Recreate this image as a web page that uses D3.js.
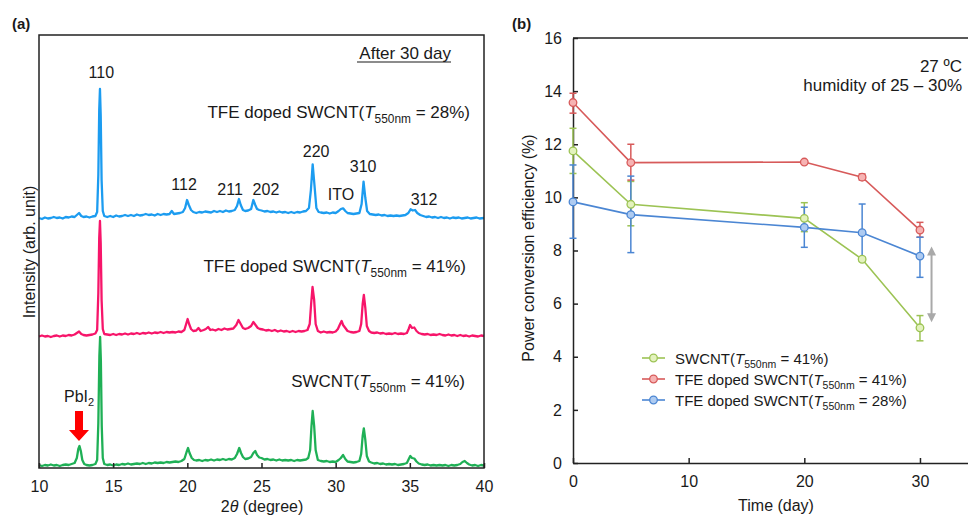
<!DOCTYPE html>
<html>
<head>
<meta charset="utf-8">
<script src="https://cdn.jsdelivr.net/npm/d3@7/dist/d3.min.js"></script>
<style>
  html, body { margin: 0; padding: 0; background: #fff; }
  svg { display: block; }
  text { font-family: "Liberation Sans", Arial, Helvetica, sans-serif; fill: #1a1a1a; }
</style>
</head>
<body>
<svg id="chart" width="968" height="517"></svg>
<script>
// ---------- (a) XRD patterns after 30 days: [2θ (deg), intensity (arb.)] ----------
const xrdTFE28 = [
  [10.0,2],[10.2,1],[10.4,2.5],[10.6,1.5],[10.8,2],[11.0,3],[11.2,2],[11.4,2.5],[11.6,1.5],[11.8,3],
  [12.0,2.5],[12.2,3.5],[12.4,3],[12.55,5],[12.7,7],[12.85,4],[13.0,3],[13.2,3.5],[13.4,2.5],[13.6,3.5],
  [13.8,4],[13.92,8],[14.0,45],[14.06,110],[14.11,131],[14.16,105],[14.22,40],[14.3,9],[14.4,4],[14.6,3],
  [14.8,4],[15.0,3],[15.2,4.5],[15.4,3.5],[15.6,4],[15.8,5],[16.0,4],[16.2,5],[16.4,4],[16.6,5.5],
  [16.8,4.5],[17.0,5],[17.2,6],[17.4,5],[17.6,5.5],[17.8,4.5],[18.0,6],[18.2,5],[18.4,6],[18.6,5.5],
  [18.8,6],[18.95,9],[19.1,6],[19.3,6.5],[19.5,7],[19.7,8],[19.85,12],[19.98,20],[20.1,15],[20.25,10],
  [20.4,8],[20.6,7],[20.8,8],[21.0,7.5],[21.2,8.5],[21.4,8],[21.6,7.5],[21.8,9],[22.0,8],[22.2,9],
  [22.4,8],[22.6,9.5],[22.8,8.5],[23.0,9],[23.2,10],[23.35,14],[23.48,21],[23.6,15],[23.75,10],[23.9,9],
  [24.1,9.5],[24.3,11],[24.45,20],[24.58,15],[24.7,11],[24.85,10],[25.0,9.5],[25.2,8.5],[25.4,9],[25.6,8],
  [25.8,8.5],[26.0,7.5],[26.2,8.5],[26.4,7.5],[26.6,8],[26.8,7],[27.0,8],[27.2,7],[27.4,8],[27.6,7.5],
  [27.8,8.5],[28.0,9],[28.2,12],[28.33,30],[28.45,55.7],[28.57,35],[28.7,12],[28.85,8],[29.0,7.5],[29.2,7],
  [29.4,7.5],[29.6,6.5],[29.8,7.5],[30.0,7],[30.2,9],[30.35,11],[30.5,11.7],[30.65,9],[30.8,7],[31.0,6.5],
  [31.2,6],[31.4,6.5],[31.6,7],[31.75,16],[31.88,38.3],[32.0,22],[32.12,9],[32.3,6],[32.5,5.5],[32.7,5],
  [32.9,5.5],[33.1,4.5],[33.3,5],[33.5,4],[33.7,4.5],[33.9,4],[34.1,4.5],[34.3,4],[34.5,4.5],[34.7,5],
  [34.9,7],[35.05,10.7],[35.2,9.5],[35.35,10],[35.5,7],[35.7,5],[35.9,4],[36.1,3],[36.3,3.5],[36.5,2.5],
  [36.7,3],[36.9,2],[37.1,3],[37.3,2],[37.5,2.5],[37.7,1.5],[37.9,2.5],[38.1,2],[38.3,2.5],[38.5,1.5],
  [38.7,2],[38.9,2.5],[39.1,1.5],[39.3,2],[39.5,2.5],[39.7,1.5],[40.0,2]
];
const xrdTFE41 = [
  [10.0,1.5],[10.2,2.5],[10.4,1.5],[10.6,2],[10.8,1],[11.0,2],[11.2,2.5],[11.4,1.5],[11.6,2.5],[11.8,2],
  [12.0,3],[12.2,2.5],[12.4,3.5],[12.55,5],[12.7,6.5],[12.85,4],[13.0,3],[13.2,2.5],[13.4,3],[13.6,3.5],
  [13.8,4.5],[13.92,8],[14.0,45],[14.06,100],[14.11,117],[14.16,95],[14.22,38],[14.3,9],[14.4,4],[14.6,3.5],
  [14.8,3],[15.0,4],[15.2,3],[15.4,4],[15.6,3.5],[15.8,4.5],[16.0,3.5],[16.2,4.5],[16.4,4],[16.6,5],
  [16.8,4],[17.0,5],[17.2,4.5],[17.4,5.5],[17.6,4.5],[17.8,5.5],[18.0,5],[18.2,6],[18.4,5],[18.6,6],
  [18.8,5.5],[19.0,6],[19.2,5.5],[19.4,6.5],[19.6,6],[19.8,8],[19.92,14],[20.02,19],[20.12,14],[20.25,9],
  [20.4,7],[20.6,7.5],[20.75,10],[20.9,7],[21.1,8],[21.25,9],[21.4,11],[21.55,8],[21.7,8.5],[21.9,7.5],
  [22.1,9],[22.3,8],[22.5,9.5],[22.7,8.5],[22.9,9],[23.1,9.5],[23.3,13],[23.45,18],[23.6,14],[23.75,10],
  [23.9,9],[24.1,10],[24.3,12],[24.45,16],[24.6,13],[24.75,10],[24.9,9],[25.1,8.5],[25.3,7.5],[25.5,8],
  [25.7,7],[25.9,8],[26.1,6.5],[26.3,7.5],[26.5,6.5],[26.7,7],[26.9,6],[27.1,7],[27.3,6],[27.5,7],
  [27.7,6.5],[27.9,7],[28.1,8],[28.25,14],[28.35,35],[28.44,51],[28.55,38],[28.65,14],[28.8,7],[29.0,5.5],
  [29.2,6.5],[29.4,5.5],[29.6,6],[29.8,5.5],[30.0,6.5],[30.15,9],[30.3,14],[30.4,17],[30.5,13],[30.65,10],
  [30.8,7],[31.0,6],[31.2,5.5],[31.4,6],[31.6,7],[31.72,14],[31.82,34],[31.9,43],[32.0,30],[32.1,12],
  [32.25,7],[32.4,5.5],[32.6,5],[32.8,5.5],[33.0,4.5],[33.2,5],[33.4,4],[33.6,4.5],[33.8,4],[34.0,5],
  [34.2,4],[34.4,4.5],[34.6,4],[34.8,5],[34.92,9],[35.02,13],[35.15,10],[35.3,10.5],[35.45,7],[35.6,5],
  [35.8,4],[36.0,3.5],[36.2,4],[36.4,3],[36.6,3.5],[36.8,3],[37.0,4],[37.2,3],[37.4,2.5],[37.6,3.5],
  [37.8,2.5],[38.0,3],[38.2,2],[38.4,3],[38.6,2],[38.8,2.5],[39.0,1.5],[39.2,2.5],[39.4,2],[39.6,1.5],
  [39.8,2.5],[40.0,2]
];
const xrdSWCNT41 = [
  [10.0,3],[10.2,2],[10.4,3],[10.6,2.5],[10.8,3.5],[11.0,2.5],[11.2,3],[11.4,2],[11.6,3],[11.8,3.5],
  [12.0,3],[12.2,4],[12.4,5],[12.55,10],[12.65,19],[12.73,22],[12.82,17],[12.92,8],[13.05,4],[13.2,3],
  [13.4,2.5],[13.6,3],[13.8,4],[13.92,8],[14.0,45],[14.07,112],[14.12,131],[14.17,108],[14.23,42],[14.3,10],
  [14.4,4],[14.6,3],[14.8,3.5],[15.0,2.5],[15.2,3.5],[15.4,3],[15.6,4],[15.8,3.5],[16.0,4.5],[16.2,3.5],
  [16.4,4],[16.6,4.5],[16.8,4],[17.0,5],[17.2,4],[17.4,5],[17.6,4.5],[17.8,5.5],[18.0,5],[18.2,5.5],
  [18.4,5],[18.6,6],[18.8,5.5],[19.0,6],[19.2,6.5],[19.4,6],[19.6,7],[19.8,9],[19.95,16],[20.05,20],
  [20.15,15],[20.3,10],[20.45,8],[20.6,7.5],[20.8,8],[21.0,7],[21.2,8],[21.4,7.5],[21.6,8.5],[21.8,7.5],
  [22.0,8.5],[22.2,8],[22.4,9],[22.6,8],[22.8,9],[23.0,8.5],[23.2,10],[23.35,14],[23.5,20],[23.62,15],
  [23.75,11],[23.9,9],[24.1,9.5],[24.3,11],[24.45,15],[24.58,17],[24.7,13],[24.85,10.5],[25.0,10],[25.2,8.5],
  [25.4,9],[25.6,8],[25.8,8.5],[26.0,7.5],[26.2,8.5],[26.4,7.5],[26.6,8],[26.8,7.5],[27.0,8],[27.2,7],
  [27.4,8],[27.6,7.5],[27.8,8],[28.0,8.5],[28.15,10],[28.28,18],[28.37,42],[28.45,57],[28.55,42],[28.65,18],
  [28.8,8],[29.0,7],[29.2,6.5],[29.4,7],[29.6,6],[29.8,6.5],[30.0,6],[30.2,8],[30.35,10],[30.5,13],
  [30.65,9],[30.8,6.5],[31.0,6],[31.2,5.5],[31.4,6],[31.6,7],[31.72,14],[31.82,32],[31.9,39.7],[32.0,28],
  [32.1,12],[32.25,6.5],[32.4,5.5],[32.6,4.5],[32.8,5],[33.0,4],[33.2,4.5],[33.4,3.5],[33.6,4],[33.8,3.5],
  [34.0,4],[34.2,3],[34.4,3.5],[34.6,4],[34.8,5],[34.93,9],[35.03,12],[35.15,10],[35.3,9.5],[35.45,6.5],
  [35.6,4.5],[35.8,3.5],[36.0,3],[36.2,3.5],[36.4,2.5],[36.6,3],[36.8,2.5],[37.0,3],[37.2,2.5],[37.4,3],
  [37.6,2],[37.8,3],[38.0,2.5],[38.2,3],[38.4,4],[38.55,6],[38.7,7],[38.85,5],[39.0,3.5],[39.2,2.5],
  [39.4,3],[39.6,2],[39.8,3],[40.0,2.5]
];
// vertical stacking offset of each pattern (arb. unit)
const xrdOffsets = { SWCNT41: 0, TFE41: 130, TFE28: 248 };
const xrdTicks = [10, 15, 20, 25, 30, 35, 40];
// reflection labels: name, 2θ anchor, intensity anchor (above the top pattern)
const hklNames = ["110", "112", "211", "202", "220", "ITO", "310", "312"];
const hklTwoTheta = [14.2, 19.78, 22.88, 25.3, 28.68, 30.36, 31.85, 35.96];
const hklLevel = [142, 30, 25, 25, 63, 20, 48, 15];
const pbi2TwoTheta = 12.73;

// ---------- (b) PCE vs storage time ----------
const days = [0, 5, 20, 25, 30];
const pceSWCNT41 = [11.75, 9.74, 9.21, 7.67, 5.09];
const errUpSWCNT41 = [0.85, 0.86, 0.59, 0.08, 0.46];
const errDnSWCNT41 = [0.85, 0.81, 0.50, 0.08, 0.49];
const pceTFE41 = [13.57, 11.31, 11.33, 10.76, 8.77];
const errUpTFE41 = [0.35, 0.69, 0.05, 0.12, 0.29];
const errDnTFE41 = [0.40, 0.66, 0.05, 0.11, 0.27];
const pceTFE28 = [9.83, 9.35, 8.87, 8.67, 7.79];
const errUpTFE28 = [1.39, 1.45, 0.76, 1.08, 0.71];
const errDnTFE28 = [1.37, 1.43, 0.75, 1.03, 0.80];
const pceYTicks = [0, 2, 4, 6, 8, 10, 12, 14, 16];
const dayTicks = [0, 10, 20, 30];
const gapArrow = { day: 31, from: 8.15, to: 5.3 };

const svg = d3.select("#chart");

// helper: "pre(T_sub post" style label with italic T and subscript
function labelWithSub(g, x, y, size, pre, sub, post, anchor) {
  const t = g.append("text").attr("x", x).attr("y", y)
    .attr("font-size", size).attr("text-anchor", anchor || "start");
  t.append("tspan").text(pre);
  t.append("tspan").attr("font-style", "italic").text("T");
  t.append("tspan").attr("font-size", size * 0.7).attr("dy", size * 0.28).text(sub);
  t.append("tspan").attr("dy", -size * 0.28).text(post);
  return t;
}

// ================= panel (a) =================
const gA = svg.append("g");
const xA = d3.scaleLinear().domain([10, 40]).range([39, 484]);
const yA = d3.scaleLinear().domain([0, 433]).range([468, 35]);

const traces = [
  { data: xrdSWCNT41, off: xrdOffsets.SWCNT41, color: "#1fb056" },
  { data: xrdTFE41, off: xrdOffsets.TFE41, color: "#f7156a" },
  { data: xrdTFE28, off: xrdOffsets.TFE28, color: "#1c9cf0" }
];
traces.forEach(tr => {
  const line = d3.line().x(d => xA(d[0])).y(d => yA(d[1] + tr.off)).curve(d3.curveLinear);
  gA.append("path").attr("d", line(tr.data)).attr("fill", "none")
    .attr("stroke", tr.color).attr("stroke-width", 2.3).attr("stroke-linejoin", "round");
});

gA.append("rect").attr("x", xA(10)).attr("y", yA(433)).attr("width", xA(40) - xA(10))
  .attr("height", yA(0) - yA(433)).attr("fill", "none").attr("stroke", "#222").attr("stroke-width", 1.5);

const axA = gA.append("g").attr("transform", `translate(0,${yA(0)})`)
  .call(d3.axisBottom(xA).tickValues(xrdTicks).tickSizeInner(-5).tickSizeOuter(0).tickPadding(13));
axA.select(".domain").remove();
axA.selectAll(".tick line").attr("stroke", "#222").attr("stroke-width", 1.5);
axA.selectAll(".tick text").attr("font-size", 16).attr("fill", "#1a1a1a")
  .attr("font-family", "'Liberation Sans', Arial, sans-serif");

// axis titles
const tA = gA.append("text").attr("x", 262).attr("y", 512).attr("font-size", 16).attr("text-anchor", "middle");
tA.append("tspan").text("2");
tA.append("tspan").attr("font-style", "italic").text("θ");
tA.append("tspan").text(" (degree)");
gA.append("text").attr("transform", "translate(35,252) rotate(-90)")
  .attr("font-size", 16).attr("text-anchor", "middle").text("Intensity (arb. unit)");

gA.append("text").attr("x", 12).attr("y", 29).attr("font-size", 15).attr("font-weight", "bold").text("(a)");

// header note
gA.append("text").attr("x", 451).attr("y", 59).attr("font-size", 17)
  .attr("text-anchor", "end").text("After 30 day");
gA.append("line").attr("x1", 357).attr("x2", 451).attr("y1", 62).attr("y2", 62)
  .attr("stroke", "#1a1a1a").attr("stroke-width", 1.2);

// reflection labels
hklNames.forEach((n, i) => {
  gA.append("text").attr("x", xA(hklTwoTheta[i])).attr("y", yA(xrdOffsets.TFE28 + hklLevel[i]))
    .attr("font-size", 16).attr("text-anchor", "middle").text(n);
});

// sample labels
labelWithSub(gA, 470, 118, 17, "TFE doped SWCNT(", "550nm", " = 28%)", "end");
labelWithSub(gA, 466, 272, 17, "TFE doped SWCNT(", "550nm", " = 41%)", "end");
labelWithSub(gA, 465, 387, 17, "SWCNT(", "550nm", " = 41%)", "end");

// PbI2 marker
const pbTop = yA(d3.max(xrdSWCNT41.filter(d => Math.abs(d[0] - pbi2TwoTheta) < 0.3), d => d[1]));
const ax0 = xA(pbi2TwoTheta) - 0.5, tip = pbTop - 5;
gA.append("path")
  .attr("d", `M${ax0 - 4},${tip - 30} L${ax0 + 4},${tip - 30} L${ax0 + 4},${tip - 11} L${ax0 + 10},${tip - 11} L${ax0},${tip} L${ax0 - 10},${tip - 11} L${ax0 - 4},${tip - 11} Z`)
  .attr("fill", "#ff0000");
const pb = gA.append("text").attr("x", 64).attr("y", 402).attr("font-size", 16);
pb.append("tspan").text("PbI");
pb.append("tspan").attr("font-size", 11).attr("dy", 4).text("2");

// ================= panel (b) =================
const gB = svg.append("g");
const xB = d3.scaleLinear().domain([0, 35]).range([573, 977.8]);
const yB = d3.scaleLinear().domain([0, 16]).range([463, 38]);

gB.append("text").attr("x", 512).attr("y", 29).attr("font-size", 15).attr("font-weight", "bold").text("(b)");

const axL = gB.append("g").attr("transform", `translate(${xB(0)},0)`)
  .call(d3.axisLeft(yB).tickValues(pceYTicks).tickSizeInner(-5).tickSizeOuter(0).tickPadding(11));
const axB = gB.append("g").attr("transform", `translate(0,${yB(0)})`)
  .call(d3.axisBottom(xB).tickValues(dayTicks).tickSizeInner(-5).tickSizeOuter(0).tickPadding(13));
[axL, axB].forEach(a => {
  a.select(".domain").attr("stroke", "#222").attr("stroke-width", 1.5);
  a.selectAll(".tick line").attr("stroke", "#222").attr("stroke-width", 1.5);
  a.selectAll(".tick text").attr("font-size", 16).attr("fill", "#1a1a1a")
    .attr("font-family", "'Liberation Sans', Arial, sans-serif");
});
gB.append("line").attr("x1", xB(0)).attr("x2", xB(35)).attr("y1", yB(16)).attr("y2", yB(16))
  .attr("stroke", "#222").attr("stroke-width", 1.5);

gB.append("text").attr("x", 776).attr("y", 511).attr("font-size", 16).attr("text-anchor", "middle").text("Time (day)");
gB.append("text").attr("transform", "translate(534,248) rotate(-90)")
  .attr("font-size", 16).attr("text-anchor", "middle").text("Power conversion efficiency (%)");

gB.append("text").attr("x", 962).attr("y", 72).attr("font-size", 17).attr("text-anchor", "end").text("27 ºC");
gB.append("text").attr("x", 962).attr("y", 91).attr("font-size", 17).attr("text-anchor", "end").text("humidity of 25 – 30%");

const series = [
  { name: "SWCNT(", post: " = 41%)", v: pceSWCNT41, up: errUpSWCNT41, dn: errDnSWCNT41, stroke: "#9cc354", fill: "#e3f2bd" },
  { name: "TFE doped SWCNT(", post: " = 41%)", v: pceTFE41, up: errUpTFE41, dn: errDnTFE41, stroke: "#d75a5a", fill: "#f6b3b3" },
  { name: "TFE doped SWCNT(", post: " = 28%)", v: pceTFE28, up: errUpTFE28, dn: errDnTFE28, stroke: "#4b86d3", fill: "#aecbf1" }
];

// error bars
series.forEach(s => {
  const g = gB.append("g").attr("stroke", s.stroke).attr("stroke-width", 1.5);
  days.forEach((d, i) => {
    const x = xB(d), y1 = yB(s.v[i] + s.up[i]), y0 = yB(s.v[i] - s.dn[i]);
    g.append("line").attr("x1", x).attr("x2", x).attr("y1", y1).attr("y2", y0);
    g.append("line").attr("x1", x - 3.5).attr("x2", x + 3.5).attr("y1", y1).attr("y2", y1);
    g.append("line").attr("x1", x - 3.5).attr("x2", x + 3.5).attr("y1", y0).attr("y2", y0);
  });
});
// lines
series.forEach(s => {
  const line = d3.line().x((d, i) => xB(days[i])).y(d => yB(d));
  gB.append("path").attr("d", line(s.v)).attr("fill", "none").attr("stroke", s.stroke).attr("stroke-width", 1.6);
});
// markers
series.forEach(s => {
  gB.selectAll(null).data(s.v).enter().append("circle")
    .attr("cx", (d, i) => xB(days[i])).attr("cy", d => yB(d)).attr("r", 3.8)
    .attr("fill", s.fill).attr("stroke", s.stroke).attr("stroke-width", 1.3);
});

// gap arrow between the two day-30 values
const gx = xB(gapArrow.day), gy1 = yB(gapArrow.from), gy2 = yB(gapArrow.to);
gB.append("line").attr("x1", gx).attr("x2", gx).attr("y1", gy1 + 7).attr("y2", gy2 - 7)
  .attr("stroke", "#a9a9a9").attr("stroke-width", 2);
gB.append("path").attr("d", `M${gx},${gy1} L${gx + 4.5},${gy1 + 9} L${gx - 4.5},${gy1 + 9} Z`).attr("fill", "#a9a9a9");
gB.append("path").attr("d", `M${gx},${gy2} L${gx + 4.5},${gy2 - 9} L${gx - 4.5},${gy2 - 9} Z`).attr("fill", "#a9a9a9");

// legend
const legY = [358, 379, 400];
series.forEach((s, i) => {
  const y = legY[i];
  gB.append("line").attr("x1", 642).attr("x2", 665).attr("y1", y).attr("y2", y)
    .attr("stroke", s.stroke).attr("stroke-width", 1.6);
  gB.append("circle").attr("cx", 653.5).attr("cy", y).attr("r", 3.8)
    .attr("fill", s.fill).attr("stroke", s.stroke).attr("stroke-width", 1.3);
  labelWithSub(gB, 675, y + 5.5, 15, s.name, "550nm", s.post, "start");
});
</script>
</body>
</html>
